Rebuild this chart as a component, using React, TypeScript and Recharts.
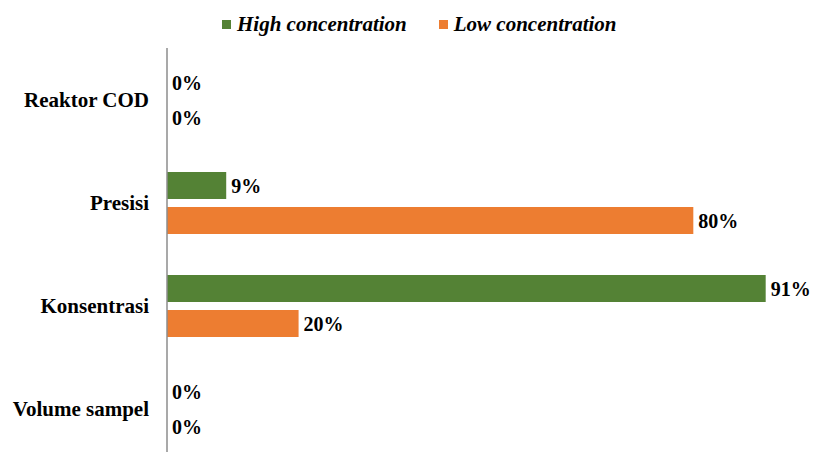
import React from "react";
import { BarChart, Bar, XAxis, YAxis } from "recharts";

const categories = ["Reaktor COD", "Presisi", "Konsentrasi", "Volume sampel"];
const highValues = [0, 9, 91, 0];
const lowValues = [0, 80, 20, 0];
const seriesNames = ["High concentration", "Low concentration"];
const colors = ["#548235", "#ED7D31"];

const data = categories.map((c, i) => ({ name: c, high: highValues[i], low: lowValues[i] }));

const font = "Liberation Serif";

const BarWithLabel = (props: any) => {
  const { x, y, width, height, fill, value } = props;
  const v = Array.isArray(value) ? value[1] - value[0] : value;
  const w = Math.max(0, width || 0);
  return (
    <g>
      {w > 0 && <rect x={x} y={y} width={w} height={height} fill={fill} />}
      <text
        x={x + w + 5}
        y={y + height / 2}
        dominantBaseline="central"
        fill="#000"
        fontFamily={font}
        fontWeight="bold"
        fontSize={20}
      >
        {`${v}%`}
      </text>
    </g>
  );
};

export default function App() {
  return (
    <div style={{ position: "absolute", left: 0, top: 0, width: 814, height: 452, overflow: "hidden", background: "#fff" }}>
      <div style={{ position: "absolute", left: 222, top: 12, display: "flex", fontFamily: font, fontWeight: "bold", fontStyle: "italic", fontSize: 21, lineHeight: "24px", color: "#000", whiteSpace: "nowrap" }}>
        {seriesNames.map((n, i) => (
          <div key={n} style={{ display: "flex", alignItems: "center", marginRight: i === 0 ? 32 : 0 }}>
            <span style={{ display: "inline-block", width: 9, height: 9, background: colors[i], marginRight: 6 }} />
            <span>{n}</span>
          </div>
        ))}
      </div>
      <BarChart
        width={814}
        height={460}
        data={data}
        layout="vertical"
        margin={{ top: 48, right: 22, bottom: 0, left: 0 }}
        barSize={27}
        barGap={8}
      >
        <XAxis type="number" domain={[0, 95]} hide />
        <YAxis
          type="category"
          dataKey="name"
          width={167}
          axisLine={{ stroke: "#8c8c8c", strokeWidth: 1.5 }}
          tickLine={false}
          tickSize={6}
          tickMargin={12}
          tick={{ fill: "#000", fontFamily: font, fontWeight: "bold", fontSize: 21 }}
        />
        <Bar dataKey="high" name={seriesNames[0]} fill={colors[0]} isAnimationActive={false} shape={BarWithLabel} />
        <Bar dataKey="low" name={seriesNames[1]} fill={colors[1]} isAnimationActive={false} shape={BarWithLabel} />
      </BarChart>
    </div>
  );
}
